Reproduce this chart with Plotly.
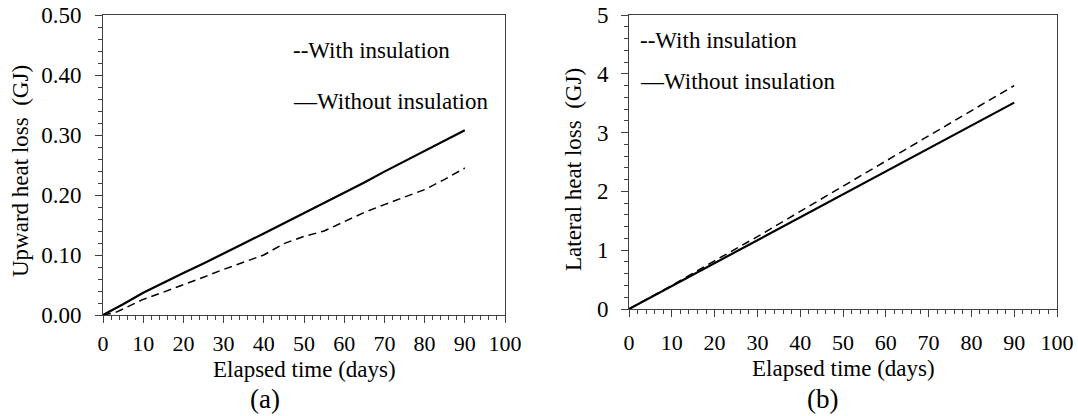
import plotly.graph_objects as go

# ---- data ----
days_a = [0, 3, 5, 10, 15, 20, 25, 30, 35, 40, 45, 50, 55, 60, 65, 70, 75, 80, 85, 90]
upward_without = [0, 0.010, 0.018, 0.037, 0.054, 0.070, 0.086, 0.102, 0.119, 0.136,
                  0.153, 0.170, 0.187, 0.203, 0.221, 0.239, 0.256, 0.273, 0.290, 0.308]
upward_with = [0, 0.004, 0.010, 0.026, 0.038, 0.050, 0.063, 0.076, 0.088, 0.100,
               0.119, 0.131, 0.140, 0.155, 0.171, 0.184, 0.197, 0.209, 0.226, 0.245]

days_b = [0, 10, 20, 30, 40, 50, 60, 70, 80, 90]
lateral_without = [0, 0.39, 0.78, 1.16, 1.55, 1.94, 2.33, 2.72, 3.11, 3.51]
lateral_with = [0, 0.40, 0.82, 1.23, 1.66, 2.09, 2.51, 2.94, 3.37, 3.80]

x_title = "Elapsed time (days)"
y_title_a = "Upward heat loss  (GJ)"
y_title_b = "Lateral heat loss  (GJ)"
label_with = "--With insulation"
label_without = "\u2014Without insulation"

W, H = 1078, 416
FONT = "Liberation Serif, Times New Roman, serif"
AX = "#404040"


def px(x):
    return x / W


def py(y):
    return 1 - y / H


fig = go.Figure()
fig.add_trace(go.Scatter(x=days_a, y=upward_with, mode="lines", xaxis="x", yaxis="y",
                         line=dict(color="black", width=1.5, dash="8px,5px"), name="With insulation"))
fig.add_trace(go.Scatter(x=days_a, y=upward_without, mode="lines", xaxis="x", yaxis="y",
                         line=dict(color="black", width=2.2), name="Without insulation"))
fig.add_trace(go.Scatter(x=days_b, y=lateral_with, mode="lines", xaxis="x2", yaxis="y2",
                         line=dict(color="black", width=1.5, dash="8px,5px"), name="With insulation"))
fig.add_trace(go.Scatter(x=days_b, y=lateral_without, mode="lines", xaxis="x2", yaxis="y2",
                         line=dict(color="black", width=2.2), name="Without insulation"))

common = dict(showgrid=False, zeroline=False, showline=True, linecolor=AX, linewidth=1,
              mirror=True, ticks="outside", ticklen=7, tickwidth=1, tickcolor=AX,
              automargin=False)
xfont = dict(family=FONT, size=22, color="black")
yfont = dict(family=FONT, size=23, color="black")


def minor(d):
    return dict(dtick=d, ticks="outside", ticklen=4, tickwidth=1, tickcolor=AX)


fig.update_layout(
    width=W, height=H, margin=dict(l=0, r=0, t=0, b=0),
    paper_bgcolor="white", plot_bgcolor="white", showlegend=False,
    xaxis=dict(domain=[px(103), px(505)], range=[0, 100], dtick=10, anchor="y",
               ticklabelstandoff=2, tickfont=xfont, minor=minor(2), **common),
    yaxis=dict(domain=[py(315), py(15)], range=[0, 0.5], dtick=0.1, tickformat=".2f", anchor="x",
               ticklabelstandoff=9, tickfont=yfont, minor=minor(0.02), **common),
    xaxis2=dict(domain=[px(629), px(1057)], range=[0, 100], dtick=10, anchor="y2",
                ticklabelstandoff=7, tickfont=xfont, minor=minor(2), **common),
    yaxis2=dict(domain=[py(309), py(15)], range=[0, 5], dtick=1, anchor="x2",
                ticklabelstandoff=8, tickfont=yfont, minor=minor(0.2), **common),
)

f23 = dict(family=FONT, size=23, color="black")
f27 = dict(family=FONT, size=27, color="black")
ann = [
    dict(text=x_title, x=px(304), y=py(369), xanchor="center", yanchor="middle", font=f23),
    dict(text=x_title, x=px(843), y=py(368), xanchor="center", yanchor="middle", font=f23),
    dict(text="(a)", x=px(265), y=py(399), xanchor="center", yanchor="middle", font=f27),
    dict(text="(b)", x=px(822), y=py(399), xanchor="center", yanchor="middle", font=f27),
    dict(text=y_title_a, x=px(20), y=py(171), textangle=-90, xanchor="center", yanchor="middle", font=f23),
    dict(text=y_title_b, x=px(573), y=py(170), textangle=-90, xanchor="center", yanchor="middle", font=f23),
    dict(text=label_with, x=px(291), y=py(50), xanchor="left", yanchor="middle", font=f23),
    dict(text=label_without, x=px(291), y=py(101), xanchor="left", yanchor="middle", font=f23),
    dict(text=label_with, x=px(638), y=py(40), xanchor="left", yanchor="middle", font=f23),
    dict(text=label_without, x=px(638), y=py(82), xanchor="left", yanchor="middle", font=f23),
]
for a in ann:
    a.update(xref="paper", yref="paper", showarrow=False)
fig.update_layout(annotations=ann)

# remove the default 8px page margin so the figure fills the 1078x416 window exactly
fig.write_html("out.html", config={"displayModeBar": False},
               post_script="document.body.style.margin='0';")
